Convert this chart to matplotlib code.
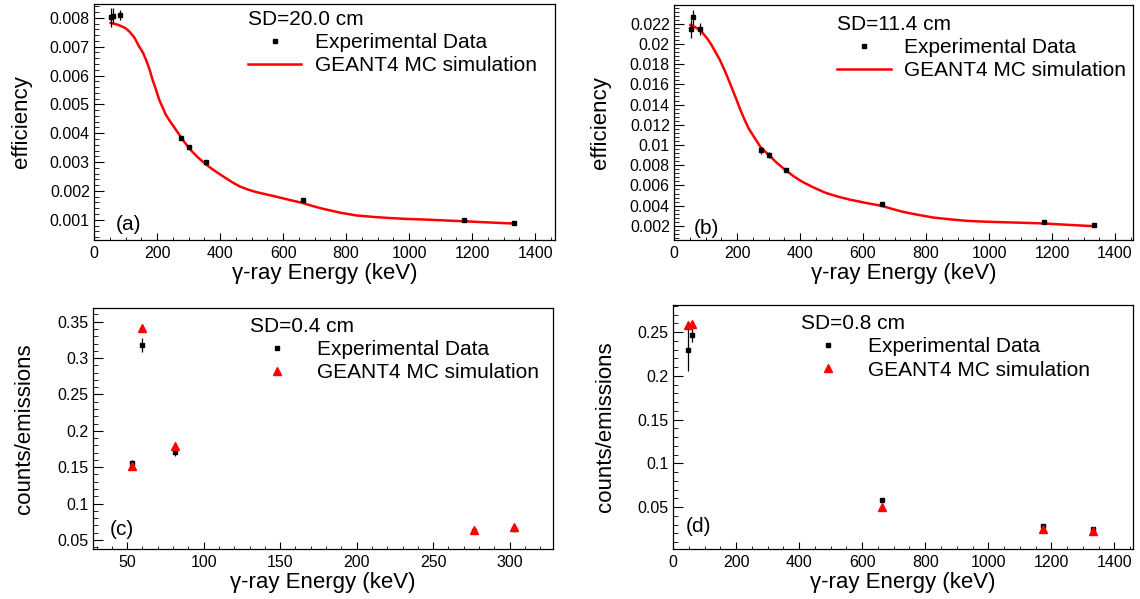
import matplotlib
matplotlib.use("Agg")
import matplotlib.pyplot as plt
from matplotlib.lines import Line2D
from matplotlib.ticker import FuncFormatter, MultipleLocator

plt.rcParams["font.family"] = ["Liberation Sans", "DejaVu Sans"]

# gamma-ray energies (keV)
ENERGY_AB = [53.2, 59.5, 81.0, 276.4, 302.9, 356.0, 661.7, 1173.2, 1332.5]
ENERGY_C = [53.2, 59.5, 81.0, 276.4, 302.9]
ENERGY_D = [46.5, 59.5, 661.7, 1173.2, 1332.5]

# (a) SD = 20.0 cm
EFF_A = [0.00802, 0.00808, 0.00809, 0.00384, 0.00353, 0.00299, 0.00167, 0.00101, 0.00090]
EFF_A_ERR = [0.00032, 0.00026, 0.00018, 0.00008, 0.00007, 0.00006, 0.00003, 0.00002, 0.00002]
SIM_A_E = [53, 70, 85, 100, 112, 128, 143, 155, 165, 176, 186, 197, 207, 218, 228, 244,
           260, 280, 303, 330, 356, 383, 409, 436, 462, 488, 515, 547, 579, 620, 660, 693,
           727, 780, 833, 886, 940, 993, 1046, 1110, 1173, 1250, 1332]
SIM_A = [0.00782, 0.00778, 0.00772, 0.00764, 0.00753, 0.00732, 0.00701, 0.00680, 0.00655,
         0.00622, 0.00585, 0.00550, 0.00516, 0.00489, 0.00464, 0.00437, 0.00412, 0.00380,
         0.00346, 0.00316, 0.00291, 0.00270, 0.00251, 0.00232, 0.00216, 0.00205, 0.00196,
         0.00188, 0.00180, 0.00169, 0.00159, 0.00148, 0.00138, 0.00125, 0.00115, 0.00110,
         0.00106, 0.00103, 0.00101, 0.00098, 0.00095, 0.00091, 0.00087]

# (b) SD = 11.4 cm
EFF_B = [0.02147, 0.02263, 0.02147, 0.00950, 0.00900, 0.00751, 0.00412, 0.00240, 0.00204]
EFF_B_ERR = [0.0009, 0.00075, 0.00063, 0.00035, 0.0003, 0.0002, 0.0001, 0.00007, 0.00005]
SIM_B_E = [52, 65, 78, 92, 105, 118, 131, 145, 158, 171, 184, 198, 211, 224, 237, 256,
           274, 301, 327, 354, 380, 407, 444, 481, 518, 556, 607, 659, 692, 726, 773, 821,
           874, 927, 980, 1033, 1100, 1171, 1250, 1331]
SIM_B = [0.02187, 0.02170, 0.02144, 0.02105, 0.02055, 0.01995, 0.01923, 0.01845, 0.01758,
         0.01662, 0.01560, 0.01452, 0.01345, 0.01250, 0.01164, 0.01070, 0.00982, 0.00900,
         0.00822, 0.00751, 0.00690, 0.00636, 0.00578, 0.00527, 0.00491, 0.00461, 0.00428,
         0.00398, 0.00368, 0.00339, 0.00310, 0.00283, 0.00265, 0.00250, 0.00242, 0.00237,
         0.00231, 0.00224, 0.00210, 0.00197]

# (c) SD = 0.4 cm
EXP_C = [0.1554, 0.3179, 0.1713, 0.0628, 0.0655]
EXP_C_ERR = [0.004, 0.010, 0.006, 0.002, 0.002]
SIM_C = [0.152, 0.3408, 0.1791, 0.0637, 0.0683]

# (d) SD = 0.8 cm
EXP_D = [0.230, 0.247, 0.0583, 0.0282, 0.0251]
EXP_D_ERR = [0.024, 0.008, 0.002, 0.0015, 0.0015]
SIM_D = [0.2586, 0.2597, 0.0502, 0.0251, 0.0228]

W, H = 1140, 599
fig = plt.figure(figsize=(W / 100, H / 100), dpi=100)


def px_axes(left, top, right, bottom):
    return fig.add_axes([left / W, 1 - bottom / H, (right - left) / W, (bottom - top) / H])


def style(ax, xlim, ylim, xmaj, xmin, ymaj, ymin, ylabel, ylab_x, xlab_y, tag, tag_xy):
    ax.set_xlim(*xlim)
    ax.set_ylim(*ylim)
    ax.xaxis.set_major_locator(MultipleLocator(xmaj))
    ax.xaxis.set_minor_locator(MultipleLocator(xmin))
    ax.yaxis.set_major_locator(MultipleLocator(ymaj))
    ax.yaxis.set_minor_locator(MultipleLocator(ymin))
    fmt = FuncFormatter(lambda v, p: f"{v:g}")
    ax.xaxis.set_major_formatter(fmt)
    ax.yaxis.set_major_formatter(fmt)
    ax.tick_params(which="both", direction="in", top=False, right=False, labelsize=11.5)
    ax.tick_params(axis="x", which="major", length=5, pad=4)
    ax.tick_params(axis="x", which="minor", length=2.5)
    ax.tick_params(axis="y", which="major", length=7, pad=3)
    ax.tick_params(axis="y", which="minor", length=3.5)
    for sp in ax.spines.values():
        sp.set_linewidth(0.9)
    ax.set_xlabel("γ-ray Energy (keV)", fontsize=16, va="top")
    ax.xaxis.set_label_coords(0.5, xlab_y)
    ax.set_ylabel(ylabel, fontsize=16)
    ax.yaxis.set_label_coords(ylab_x, 0.5)
    ax.text(tag_xy[0], tag_xy[1], tag, transform=ax.transAxes, fontsize=15, va="center")


def add_legend(ax, title, sim_handle, x, y):
    exp_handle = Line2D([], [], color="black", marker="s", markersize=2.6, linestyle="none")
    leg = ax.legend([exp_handle, sim_handle], ["Experimental Data", "GEANT4 MC simulation"],
                    title=title, alignment="left", loc="upper left", bbox_to_anchor=(x, y),
                    frameon=False, fontsize=15, title_fontsize=15, handlelength=2.55,
                    handletextpad=0.65, labelspacing=0.2, borderpad=0, borderaxespad=0)
    return leg


err_kw = dict(fmt="s", color="black", markersize=2.6, elinewidth=0.9, capsize=0, zorder=3)

# (a)
ax = px_axes(94, 4, 555, 240)
ax.plot(SIM_A_E, SIM_A, color="#ff0000", lw=1.8, zorder=2)
ax.errorbar(ENERGY_AB, EFF_A, yerr=EFF_A_ERR, **err_kw)
style(ax, (0, 1463), (0.0003, 0.00848), 200, 50, 0.001, 0.0002,
      "efficiency", -0.134, -0.097, "(a)", (0.048, 0.064))
add_legend(ax, "SD=20.0 cm", Line2D([], [], color="#ff0000", lw=1.8), 0.334, 0.975)

# (b)
ax = px_axes(674, 5, 1133, 240)
ax.plot(SIM_B_E, SIM_B, color="#ff0000", lw=1.8, zorder=2)
ax.errorbar(ENERGY_AB, EFF_B, yerr=EFF_B_ERR, **err_kw)
style(ax, (0, 1457), (0.0006, 0.02385), 200, 50, 0.002, 0.0004,
      "efficiency", -0.137, -0.097, "(b)", (0.044, 0.05))
add_legend(ax, "SD=11.4 cm", Line2D([], [], color="#ff0000", lw=1.8), 0.356, 0.958)

tri = Line2D([], [], color="#ff0000", marker="^", markersize=5.5, linestyle="none")

# (c)
ax = px_axes(93, 308, 553, 549)
ax.errorbar(ENERGY_C, EXP_C, yerr=EXP_C_ERR, **err_kw)
ax.plot(ENERGY_C, SIM_C, "^", color="#ff0000", markersize=5.5, zorder=4)
style(ax, (27.7, 328.3), (0.0376, 0.3688), 50, 10, 0.05, 0.01,
      "counts/emissions", -0.127, -0.095, "(c)", (0.037, 0.082))
add_legend(ax, "SD=0.4 cm", tri, 0.342, 0.963)

# (d)
ax = px_axes(673, 305, 1133, 549)
ax.errorbar(ENERGY_D, EXP_D, yerr=EXP_D_ERR, **err_kw)
ax.plot(ENERGY_D, SIM_D, "^", color="#ff0000", markersize=5.5, zorder=4)
style(ax, (0, 1459), (0.002, 0.281), 200, 50, 0.05, 0.01,
      "counts/emissions", -0.124, -0.095, "(d)", (0.028, 0.091))
add_legend(ax, "SD=0.8 cm", tri, 0.279, 0.962)

fig.savefig("out.png", dpi=100, facecolor="white")
